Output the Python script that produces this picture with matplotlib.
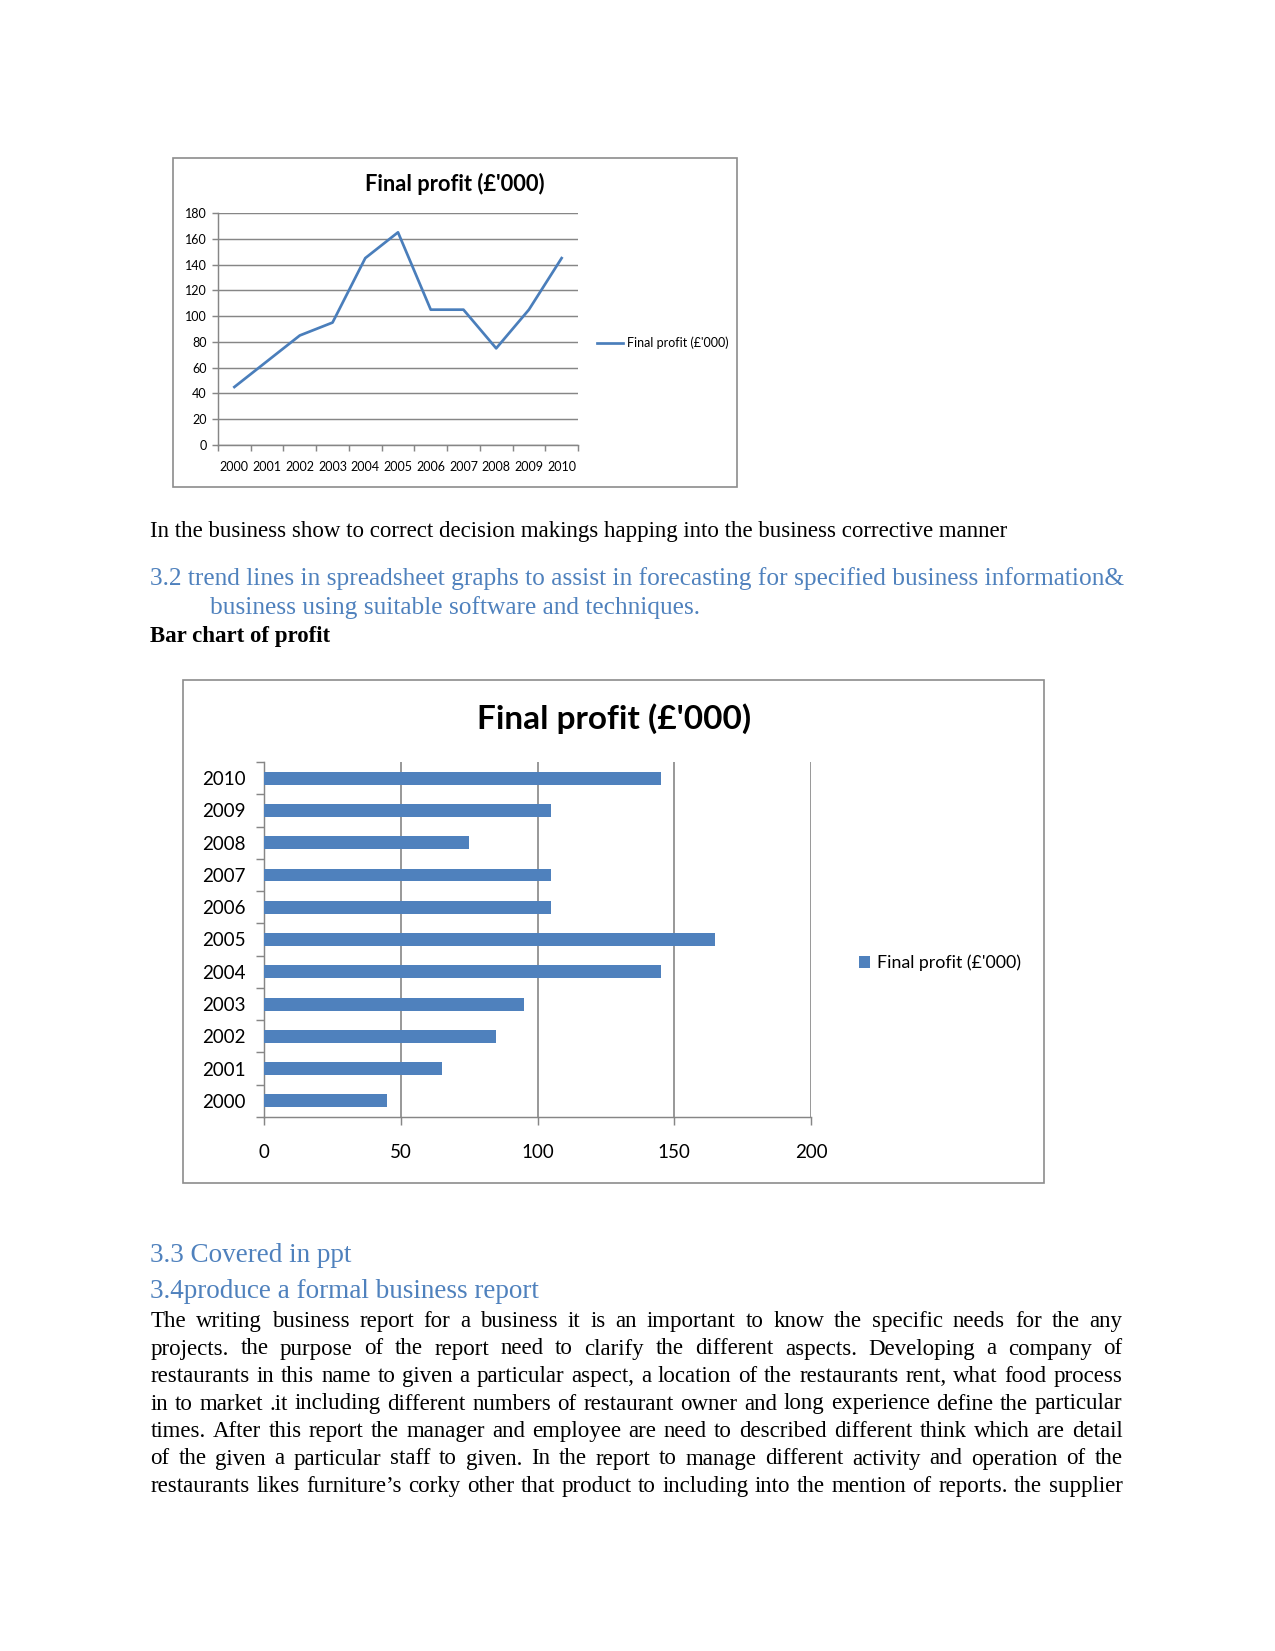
import matplotlib
matplotlib.use("Agg")
import matplotlib.pyplot as plt
from matplotlib.patches import Rectangle
import numpy as np

W, H = 1275, 1651

years = ["2000", "2001", "2002", "2003", "2004", "2005", "2006", "2007", "2008", "2009", "2010"]
profit = [45, 65, 85, 95, 145, 165, 105, 105, 75, 105, 145]
series_name = "Final profit (£'000)"

line_yticks = [0, 20, 40, 60, 80, 100, 120, 140, 160, 180]
bar_xticks = [0, 50, 100, 150, 200]

body_lines = [
    "The writing business report for a business it is an important to know the specific needs for the any",
    "projects. the purpose of the report need to clarify the different aspects.  Developing a company of",
    "restaurants in this name to given a particular aspect, a location of the restaurants rent, what food process",
    "in to market .it including different numbers of restaurant owner and long experience define the particular",
    "times. After this report the manager and employee are need to described different think which are detail",
    "of the given a particular staff to given. In the report to manage different activity and operation of the",
    "restaurants likes furniture\u2019s corky other that product to including into the mention of reports. the supplier",
]

blue = "#4F81BD"
head_blue = "#4F81BD"
grid_gray = "#868686"
chart_font = "Lato"
serif = "Liberation Serif"

fig = plt.figure(figsize=(W / 150, H / 150), dpi=150)


def fx(x):
    return x / W


def fy(y):
    return 1 - y / H


def axes_px(left, top, right, bottom):
    return fig.add_axes([fx(left), fy(bottom), (right - left) / W, (bottom - top) / H])


def box(left, top, right, bottom):
    fig.patches.append(Rectangle((fx(left), fy(bottom)), (right - left) / W, (bottom - top) / H,
                                 transform=fig.transFigure, fill=False,
                                 edgecolor="#8c8c8c", lw=0.8))


# ---------------- line chart ----------------
box(173, 158, 737, 487)
fig.text(fx(455), fy(184), series_name, ha="center", va="center",
         fontsize=10.5, fontweight="bold", family=chart_font)

ax1 = axes_px(218, 213, 578, 445)
x = np.arange(len(years))
ax1.plot(x, profit, color="#4A7EBB", lw=1.3, label=series_name)
ax1.set_xlim(-0.5, len(years) - 0.5)
ax1.set_ylim(0, 180)
ax1.set_yticks(line_yticks)
ax1.set_yticklabels([str(v) for v in line_yticks], fontsize=6, family=chart_font)
ax1.set_xticks(x)
ax1.set_xticklabels(years, fontsize=6, family=chart_font)
ax1.set_xticks(np.arange(-0.5, len(years)), minor=True)
ax1.tick_params(axis="x", which="major", length=0, pad=7.5)
ax1.tick_params(axis="x", which="minor", length=3, color=grid_gray, width=0.7)
ax1.tick_params(axis="y", length=3, color=grid_gray, width=0.7, pad=2.5)
for s in ["top", "right"]:
    ax1.spines[s].set_visible(False)
for s in ["left", "bottom"]:
    ax1.spines[s].set_color(grid_gray)
    ax1.spines[s].set_linewidth(0.7)
ax1.yaxis.grid(True, color=grid_gray, lw=0.7)
ax1.set_axisbelow(True)
ax1.legend(loc="center left", bbox_to_anchor=(fx(597), fy(343)), bbox_transform=fig.transFigure,
           frameon=False, prop={"family": chart_font, "size": 6}, handlelength=2.1,
           handletextpad=0.3, borderaxespad=0, borderpad=0)

# ---------------- text between charts ----------------
fig.text(fx(150.5), fy(537), "In the business show to correct decision makings happing into the business corrective manner",
         fontsize=11, family=serif, va="baseline")
fig.text(fx(150.5), fy(585), "3.2 trend lines in spreadsheet graphs to assist in forecasting for specified business information&",
         fontsize=12.2, family=serif, va="baseline", color=head_blue)
fig.text(fx(210.5), fy(614), "business using suitable software and techniques.",
         fontsize=12.2, family=serif, va="baseline", color=head_blue)
fig.text(fx(150.5), fy(642), "Bar chart of profit", fontsize=11, family=serif, va="baseline", fontweight="bold")

# ---------------- bar chart ----------------
box(183, 680, 1044, 1183)
fig.text(fx(614), fy(719), series_name, ha="center", va="center",
         fontsize=16, fontweight="bold", family=chart_font)

ax2 = axes_px(264, 762, 811, 1117)
ax2.barh(x, profit, height=0.4, color=blue, label=series_name, zorder=3)
ax2.set_ylim(-0.5, len(years) - 0.5)
ax2.set_xlim(0, 200)
ax2.set_yticks(x)
ax2.set_yticklabels(years, fontsize=9, family=chart_font)
ax2.set_yticks(np.arange(-0.5, len(years)), minor=True)
ax2.tick_params(axis="y", which="major", length=0, pad=9)
ax2.tick_params(axis="y", which="minor", length=4, color=grid_gray, width=0.7)
ax2.set_xticks(bar_xticks)
ax2.set_xticklabels([str(v) for v in bar_xticks], fontsize=9, family=chart_font)
ax2.tick_params(axis="x", length=4, color=grid_gray, width=0.7, pad=9)
for s in ["top", "right"]:
    ax2.spines[s].set_visible(False)
for s in ["left", "bottom"]:
    ax2.spines[s].set_color(grid_gray)
    ax2.spines[s].set_linewidth(0.7)
ax2.xaxis.grid(True, color=grid_gray, lw=0.8)
ax2.set_axisbelow(True)
ax2.legend(loc="center left", bbox_to_anchor=(fx(859), fy(963)), bbox_transform=fig.transFigure,
           frameon=False, prop={"family": chart_font, "size": 8.5}, handlelength=0.6, handleheight=0.6,
           handletextpad=0.4, borderaxespad=0, borderpad=0)

# ---------------- text after charts ----------------
fig.text(fx(150.5), fy(1262), "3.3 Covered in ppt", fontsize=13, family=serif, va="baseline", color=head_blue)
fig.text(fx(150.5), fy(1298), "3.4produce a formal business report", fontsize=13, family=serif, va="baseline",
         color=head_blue)

renderer = fig.canvas.get_renderer()


def justify(line, y, x0=150.5, x1=1122.5):
    words = line.split()
    texts = [fig.text(0, 0, w, fontsize=11, family=serif, va="baseline") for w in words]
    widths = [t.get_window_extent(renderer).width for t in texts]
    gap = (x1 - x0 - sum(widths)) / (len(words) - 1)
    pos = x0
    for t, w in zip(texts, widths):
        t.set_position((fx(pos), fy(y)))
        pos += w + gap


for i, line in enumerate(body_lines):
    justify(line, 1327 + i * 27.5)

fig.savefig("out.png", dpi=150)
